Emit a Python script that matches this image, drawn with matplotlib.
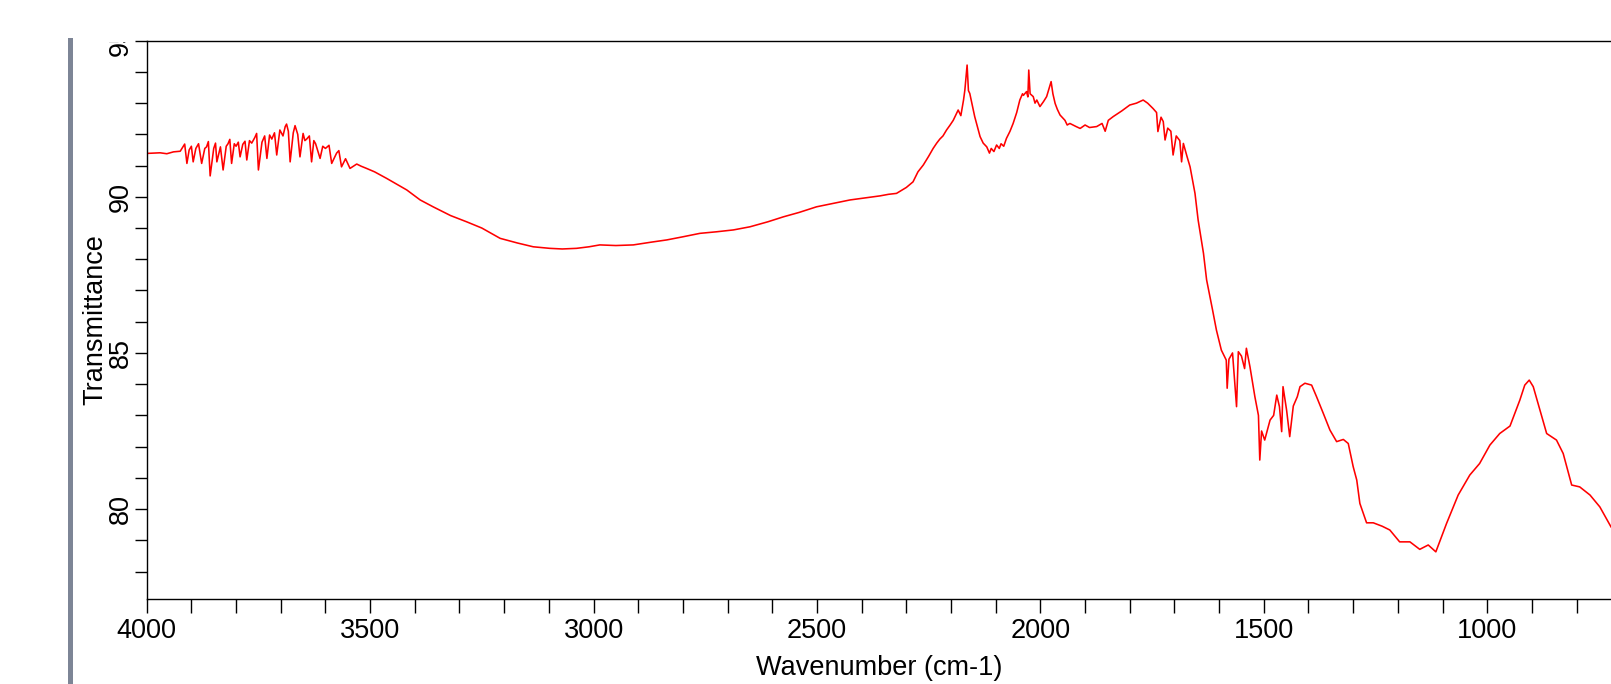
import matplotlib
matplotlib.use("Agg")
import matplotlib.pyplot as plt
from matplotlib.ticker import MultipleLocator
from matplotlib.patches import Rectangle
from matplotlib.transforms import Bbox, TransformedBbox

# FTIR spectrum: wavenumber (cm-1) and transmittance (%)
wavenumber = [
    4000, 3985, 3970, 3955, 3940, 3925, 3915, 3910, 3905, 3900,
    3896, 3890, 3884, 3877, 3870, 3866, 3862, 3858, 3850, 3846,
    3843, 3835, 3829, 3822, 3818, 3814, 3810, 3804, 3800, 3795,
    3791, 3785, 3780, 3776, 3770, 3765, 3758, 3754, 3750, 3742,
    3736, 3731, 3725, 3720, 3714, 3709, 3702, 3695, 3690, 3687,
    3683, 3679, 3672, 3668, 3662, 3657, 3650, 3646, 3642, 3636,
    3631, 3626, 3622, 3612, 3606, 3600, 3592, 3586, 3575, 3570,
    3564, 3555, 3545, 3530, 3520, 3508, 3490, 3463, 3440, 3418,
    3388, 3359, 3320, 3284, 3250, 3209, 3170, 3135, 3098, 3070,
    3038, 3010, 2986, 2950, 2911, 2870, 2836, 2800, 2762, 2725,
    2687, 2650, 2610, 2575, 2540, 2501, 2460, 2426, 2390, 2359,
    2340, 2322, 2300, 2285, 2274, 2262, 2250, 2240, 2232, 2225,
    2218, 2210, 2202, 2195, 2184, 2178, 2172, 2169, 2164, 2161,
    2158, 2152, 2147, 2140, 2135, 2128, 2120, 2114, 2110, 2104,
    2098, 2092, 2088, 2082, 2076, 2068, 2061, 2053, 2046, 2040,
    2038, 2031, 2028, 2026, 2023, 2016, 2012, 2008, 2001, 1993,
    1986, 1980, 1976, 1972, 1967, 1962, 1956, 1945, 1940, 1934,
    1920, 1911, 1900, 1890, 1874, 1862, 1855, 1848, 1837, 1818,
    1800, 1785, 1770, 1760, 1748, 1740, 1737, 1730, 1725, 1721,
    1715, 1708, 1703, 1696, 1688, 1684, 1680, 1672, 1665, 1654,
    1647, 1635, 1628, 1615, 1606, 1595, 1584, 1582, 1578, 1570,
    1561, 1557, 1550, 1543, 1539, 1531, 1520, 1512, 1509, 1505,
    1498, 1486, 1478, 1471, 1465, 1460, 1457, 1449, 1442, 1434,
    1425, 1419, 1408, 1393, 1382, 1367, 1352, 1337, 1322, 1311,
    1300, 1292, 1285, 1270, 1255, 1235, 1218, 1196, 1173, 1151,
    1132, 1115, 1091, 1065, 1039, 1017, 994, 972, 949, 927,
    916, 906, 897, 882, 867, 845, 830, 811, 793, 770,
    748, 723,
]
transmittance = [
    91.39, 91.40, 91.41, 91.38, 91.44, 91.46, 91.69, 91.07, 91.50, 91.62,
    91.12, 91.55, 91.70, 91.07, 91.55, 91.60, 91.77, 90.67, 91.55, 91.72,
    91.12, 91.60, 90.86, 91.62, 91.70, 91.84, 91.07, 91.70, 91.62, 91.75,
    91.28, 91.68, 91.78, 91.18, 91.80, 91.72, 91.90, 92.03, 90.86, 91.75,
    91.95, 91.23, 91.98, 91.85, 92.05, 91.34, 92.14, 91.95, 92.25, 92.33,
    92.10, 91.12, 92.05, 92.28, 92.00, 91.28, 92.03, 91.80, 91.85, 91.95,
    91.12, 91.80, 91.70, 91.23, 91.62, 91.55, 91.65, 91.07, 91.40, 91.48,
    90.96, 91.22, 90.91, 91.05, 90.98, 90.91, 90.80, 90.59, 90.40, 90.22,
    89.90, 89.68, 89.40, 89.20, 89.00, 88.67, 88.52, 88.40, 88.35, 88.33,
    88.35, 88.40, 88.46, 88.44, 88.46, 88.55, 88.62, 88.72, 88.83, 88.88,
    88.94, 89.04, 89.20, 89.36, 89.50, 89.68, 89.80, 89.90, 89.97, 90.03,
    90.08, 90.11, 90.30, 90.48, 90.80, 91.02, 91.30, 91.55, 91.72, 91.85,
    91.95, 92.14, 92.30, 92.45, 92.78, 92.60, 93.10, 93.42, 94.22, 93.40,
    93.31, 92.90, 92.57, 92.20, 91.93, 91.72, 91.60, 91.40, 91.55, 91.45,
    91.66, 91.55, 91.70, 91.62, 91.87, 92.10, 92.35, 92.70, 93.10, 93.30,
    93.25, 93.37, 93.20, 94.06, 93.30, 93.21, 93.00, 93.10, 92.89, 93.05,
    93.21, 93.50, 93.69, 93.30, 92.99, 92.80, 92.62, 92.45, 92.30, 92.35,
    92.25, 92.19, 92.30, 92.22, 92.25, 92.35, 92.10, 92.45, 92.57, 92.75,
    92.94, 93.00, 93.10, 93.00, 92.83, 92.70, 92.09, 92.55, 92.41, 91.82,
    92.20, 92.10, 91.34, 91.95, 91.80, 91.12, 91.71, 91.30, 90.96, 90.11,
    89.26, 88.19, 87.34, 86.40, 85.73, 85.09, 84.77, 83.87, 84.80, 85.00,
    83.28, 85.04, 84.90, 84.50, 85.15, 84.56, 83.60, 83.00, 81.57, 82.50,
    82.21, 82.85, 83.00, 83.65, 83.28, 82.48, 83.92, 83.17, 82.32, 83.30,
    83.60, 83.92, 84.03, 83.97, 83.60, 83.07, 82.53, 82.16, 82.23, 82.10,
    81.36, 80.93, 80.18, 79.56, 79.56, 79.45, 79.33, 78.95, 78.95, 78.71,
    78.85, 78.63, 79.54, 80.45, 81.09, 81.46, 82.05, 82.42, 82.66, 83.49,
    83.97, 84.13, 83.92, 83.17, 82.42, 82.21, 81.78, 80.77, 80.71, 80.45,
    80.07, 79.43,
]

plt.rcParams["font.family"] = ["Liberation Sans", "DejaVu Sans"]
FS = 19.5

W, H = 1611, 684
fig = plt.figure(figsize=(W / 100, H / 100), dpi=100)
fig.patch.set_facecolor("white")

left_px, top_px, bottom_px = 146.7, 40.7, 599.0
ax = fig.add_axes([left_px / W, 1 - bottom_px / H, 1 - left_px / W, (bottom_px - top_px) / H])

ax.plot(wavenumber, transmittance, color="#ff0000", lw=1.15)

ax.set_xlim(4000, 723)
ax.set_ylim(77.12, 95)

ax.xaxis.set_major_locator(MultipleLocator(500))
ax.xaxis.set_minor_locator(MultipleLocator(100))
ax.yaxis.set_major_locator(MultipleLocator(5))
ax.yaxis.set_minor_locator(MultipleLocator(1))

ax.tick_params(axis="x", which="both", direction="out", length=10, width=1.0,
               pad=3.5, labelsize=FS, color="black")
ax.tick_params(axis="y", which="both", direction="out", length=8.5, width=1.0,
               pad=1.0, labelsize=FS, color="black", labelrotation=90)
for lab in ax.get_yticklabels():
    lab.set_va("center")

for side in ("left", "top", "bottom"):
    ax.spines[side].set_linewidth(1.0)
    ax.spines[side].set_color("black")
ax.spines["right"].set_visible(False)

ax.set_xlabel("Wavenumber (cm-1)", fontsize=FS, labelpad=8)
ax.set_ylabel("Transmittance", fontsize=FS, labelpad=-0.5)

# slate bar on the left edge of the page
fig.add_artist(Rectangle((67.5 / W, 0), 5 / W, (H - 37.7) / H,
                         transform=fig.transFigure, color="#7d8596", lw=0))

fig.canvas.draw()
# y tick labels are cut at the top edge of the plot frame
clip = TransformedBbox(Bbox([[0, 0], [1, 1 - (top_px + 1.5) / H]]), fig.transFigure)
for lab in ax.get_yticklabels():
    lab.set_clip_box(clip)
    lab.set_clip_on(True)

fig.savefig("out.png", dpi=100, facecolor="white")
